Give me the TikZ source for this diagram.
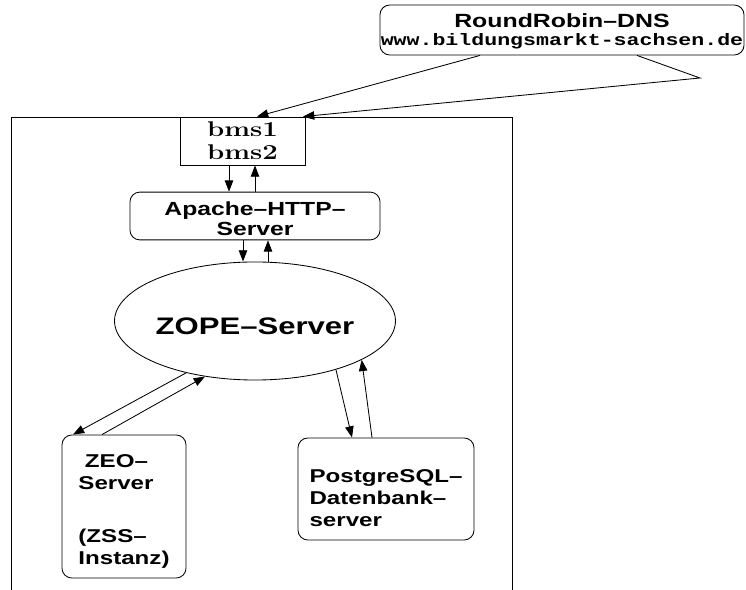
\documentclass[tikz,border=0pt]{standalone}
\usepackage{fontspec}
\usetikzlibrary{arrows.meta,shapes.geometric}
\newfontfamily\figsans{Liberation Sans}[FakeStretch=1.3]
\newfontfamily\figmono{Liberation Mono}[FakeStretch=1.3]
\newcommand{\srvfont}{\figsans\bfseries\fontsize{13.2}{15.6}\selectfont}
\newcommand{\widebms}[1]{{\fontsize{14}{16.3}\selectfont\bfseries\scalebox{1.4}[1.08]{#1}}}

\tikzset{
  srvbox/.style={draw, rounded corners=7pt, align=left, font=\srvfont},
  flow/.style={-{Triangle[length=8pt,width=6pt]}}
}

\begin{document}
\begin{tikzpicture}[x=0.025cm, y=-0.025cm, line width=0.6pt]
  \useasboundingbox (0,0) rectangle (746,590);

  % Cluster frame
  \draw (11,590) -- (11,117) -- (512,117) -- (512,590);

  % DNS
  \node[srvbox, align=center, inner sep=0pt, minimum width=9.1cm, minimum height=1.25cm] (dns) at (562,30)
    {{\figsans\bfseries\fontsize{13.6}{14}\selectfont\rule{0pt}{12pt}RoundRobin–DNS}\\[-3pt]
     {\figmono\bfseries\fontsize{11.8}{14}\selectfont www.bildungsmarkt-sachsen.de}};

  % Frontends
  \node[draw, align=center, minimum width=3.125cm, minimum height=1.2cm, inner sep=0pt,
        font=\fontsize{14}{16.3}\selectfont] (bms) at (242.5,141)
    {\widebms{bms1}\\\widebms{bms2}};

  % Servers
  \node[srvbox, align=center, minimum width=6.25cm, minimum height=1.1cm,
        font=\figsans\bfseries\fontsize{13.5}{14.2}\selectfont] (apache) at (255,216)
    {\rule{0pt}{13pt}Apache–HTTP–\\Server};
  \node[draw, ellipse, inner sep=0pt, minimum width=6.25cm, minimum height=2.95cm,
        font=\figsans\bfseries\fontsize{17}{18}\selectfont] (zope) at (255,321)
    {\rule{0pt}{19pt}ZOPE–Server};
  \node[srvbox, minimum width=3.1cm, minimum height=3.575cm] (zeo) at (124,506.5)
    {\rule{0pt}{16pt}\hspace*{0.35em}ZEO–\\Server\\[22pt](ZSS–\\Instanz)};
  \node[srvbox, minimum width=4.4cm, minimum height=2.55cm] (pg) at (386,489)
    {\rule{0pt}{22pt}PostgreSQL–\\Datenbank–\\server};

  % DNS entries
  \coordinate (knee) at (700,78);
  \draw[flow] (480,0 |- dns.south) -- (257,0 |- bms.north);
  \draw[flow] (637,0 |- dns.south) -- (knee) -- (303,0 |- bms.north);

  % Requests and replies
  \draw[flow] (229,0 |- bms.south) -- (229,0 |- apache.north);
  \draw[flow] (255,0 |- apache.north) -- (255,0 |- bms.south);
  \draw[flow] (243,0 |- apache.south) -- (243,0 |- zope.north);
  \draw[flow] (268,0 |- zope.north) -- (268,0 |- apache.south);
  \draw[flow] (zope.217) -- (73,0 |- zeo.north);
  \draw[flow] (102,0 |- zeo.north) -- (zope.228);
  \draw[flow] (zope.329) -- (352,0 |- pg.north);
  \draw[flow] (372,0 |- pg.north) -- (zope.340);
\end{tikzpicture}
\end{document}
